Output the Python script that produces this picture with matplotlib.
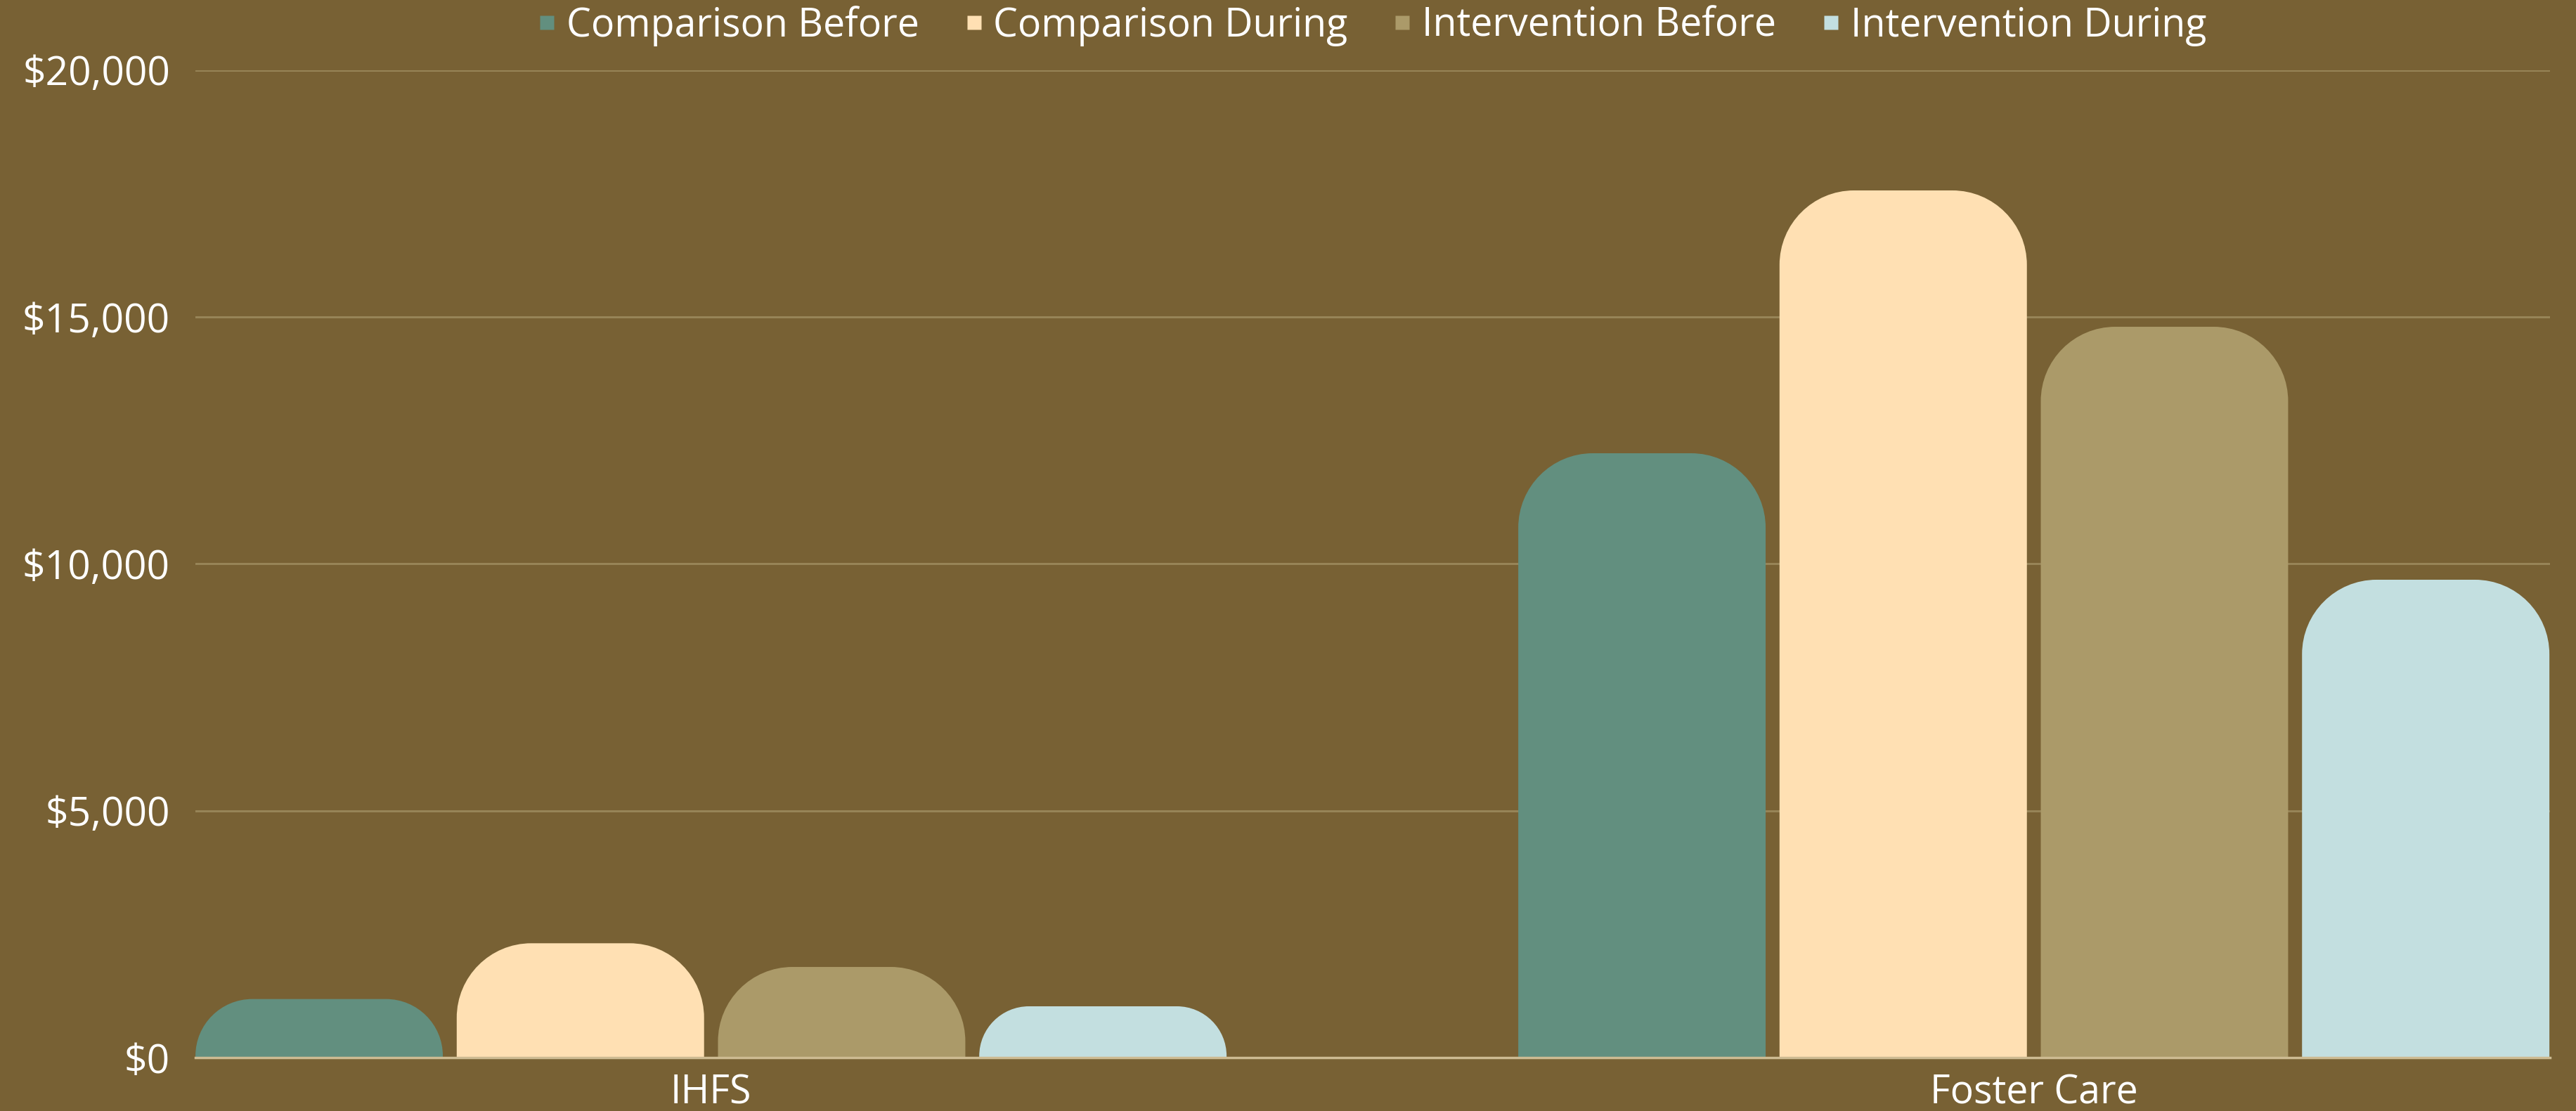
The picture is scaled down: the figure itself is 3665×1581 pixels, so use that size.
import numpy as np
import matplotlib
matplotlib.use("Agg")
import matplotlib.pyplot as plt
from matplotlib.path import Path
from matplotlib.patches import PathPatch
from matplotlib.lines import Line2D
from matplotlib.ticker import FuncFormatter

categories = ["IHFS", "Foster Care"]
series_names = ["Comparison Before", "Comparison During", "Intervention Before", "Intervention During"]
comparison_before = [1186, 12242]
comparison_during = [2316, 17566]
intervention_before = [1836, 14804]
intervention_during = [1039, 9680]
y_ticks = [0, 5000, 10000, 15000, 20000]

colors = ["#628F7F", "#FFE0B3", "#AB9A69", "#C3DFE0"]
bg = "#786134"

plt.rcParams['font.family'] = ['Open Sans', 'DejaVu Sans']

fig = plt.figure(figsize=(36.65, 15.81), dpi=100, facecolor=bg)
ax = fig.add_axes([278 / 3665, 76 / 1581, 3350 / 3665, 1405 / 1581])
ax.set_facecolor(bg)

x = np.arange(len(categories))
width = 0.187
step = 0.1975
all_series = [comparison_before, comparison_during, intervention_before, intervention_during]

ax.set_xlim(-0.3898, 1.3902)
ax.set_ylim(0, 20000)

bars = []
for i, vals in enumerate(all_series):
    b = ax.bar(x + (i - 1.5) * step, vals, width, color=colors[i], label=series_names[i], zorder=3)
    bars.append(b)

# rounded tops: convert a pixel radius into data units
fig.canvas.draw()
bbox = ax.get_window_extent()
px_x = bbox.width / (ax.get_xlim()[1] - ax.get_xlim()[0])
px_y = bbox.height / (ax.get_ylim()[1] - ax.get_ylim()[0])
k = 0.5523

for i, b in enumerate(bars):
    for rect in b:
        x0 = rect.get_x()
        w = rect.get_width()
        h = rect.get_height()
        r_px = min(106, h * px_y * 0.97)
        rx = r_px / px_x
        ry = r_px / px_y
        x1 = x0 + w
        verts = [
            (x0, 0), (x0, h - ry),
            (x0, h - ry + k * ry), (x0 + rx - k * rx, h), (x0 + rx, h),
            (x1 - rx, h),
            (x1 - rx + k * rx, h), (x1, h - ry + k * ry), (x1, h - ry),
            (x1, 0), (x0, 0),
        ]
        codes = [Path.MOVETO, Path.LINETO,
                 Path.CURVE4, Path.CURVE4, Path.CURVE4,
                 Path.LINETO,
                 Path.CURVE4, Path.CURVE4, Path.CURVE4,
                 Path.LINETO, Path.CLOSEPOLY]
        rect.set_visible(False)
        ax.add_patch(PathPatch(Path(verts, codes), facecolor=colors[i], edgecolor="none", zorder=3))

ax.set_yticks(y_ticks)
ax.yaxis.set_major_formatter(FuncFormatter(lambda v, p: "${:,.0f}".format(v)))
ax.grid(axis="y", color="#978457", linewidth=2.2, zorder=0)
ax.set_axisbelow(True)
ax.set_xticks(x)
ax.set_xticklabels(categories)
ax.tick_params(axis="y", length=0, pad=26, labelsize=41, labelcolor="white")
ax.tick_params(axis="x", length=0, pad=16, labelsize=40, labelcolor="white")
for s in ["top", "right", "left"]:
    ax.spines[s].set_visible(False)
ax.spines["bottom"].set_color("#CDBB92")
ax.spines["bottom"].set_linewidth(2.5)
ax.spines["bottom"].set_zorder(4)

handles = [Line2D([0], [0], marker="s", linestyle="none", markersize=14,
                  markerfacecolor=c, markeredgecolor="none") for c in colors]
fig.legend(handles, series_names, loc="center", bbox_to_anchor=(1953 / 3665, 1 - 37 / 1581),
           ncol=4, frameon=False, fontsize=40, labelcolor="white",
           handlelength=0.4, handletextpad=0.3, columnspacing=1.2, borderpad=0)

fig.savefig("out.png", dpi=100, facecolor=bg)
